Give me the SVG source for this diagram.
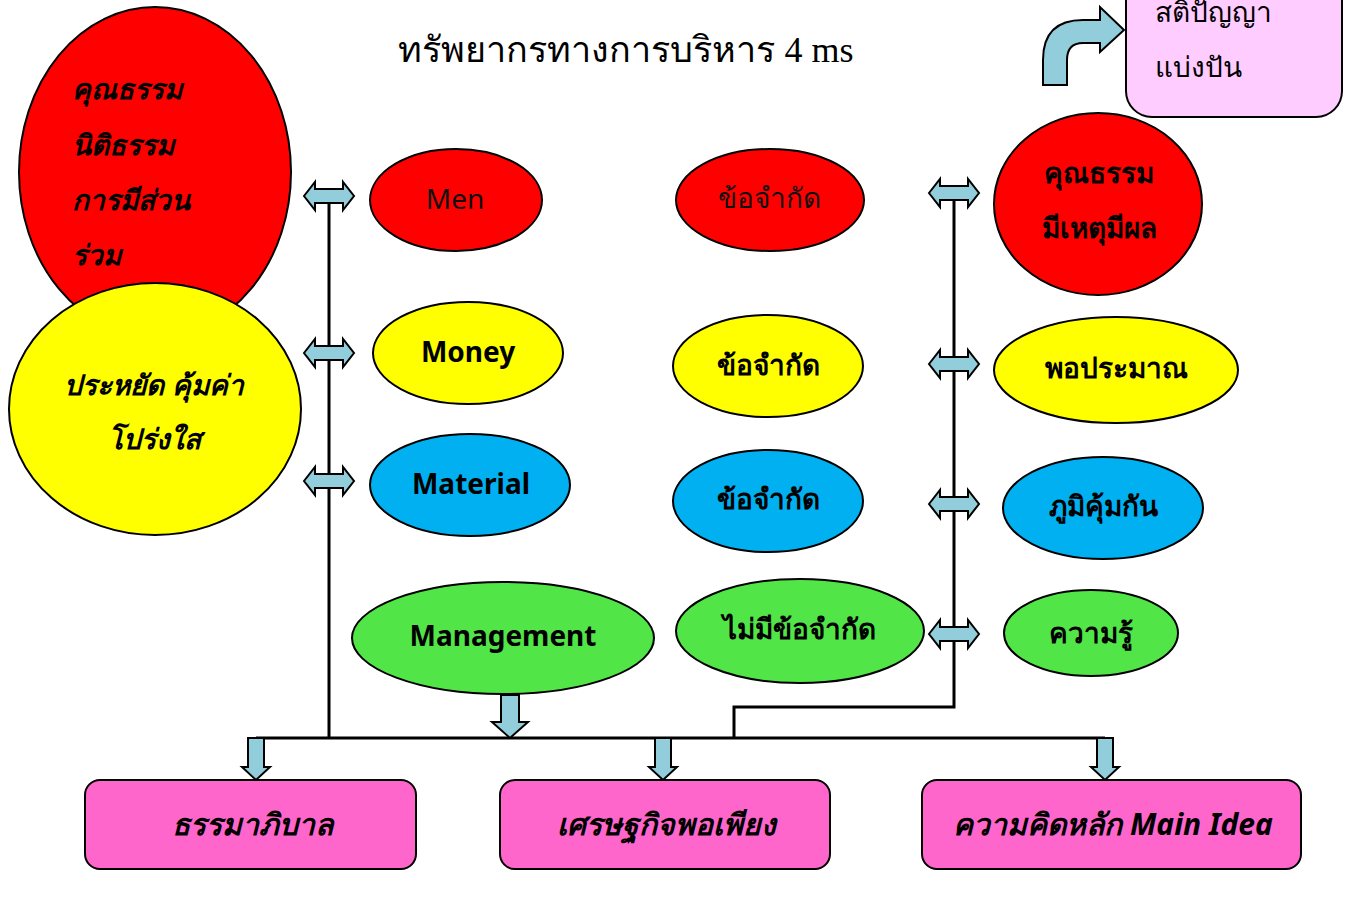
<svg xmlns="http://www.w3.org/2000/svg" xmlns:xlink="http://www.w3.org/1999/xlink" width="1353" height="898" viewBox="0 0 1353 898">
<style>
.sh{stroke:#000;stroke-width:2}
.red{fill:#FF0000}.yel{fill:#FFFF00}.blu{fill:#00B0F0}.grn{fill:#52E548}
.ar{fill:#92CDDC;stroke:#000;stroke-width:2;stroke-linejoin:miter}
.ln{fill:none;stroke:#000;stroke-width:3}
.t{font-family:"Noto Sans","DejaVu Sans","Liberation Sans",sans-serif;font-size:28px;fill:#000;text-anchor:middle}
.b{font-weight:bold}
.i{font-style:italic;font-weight:bold}
.bt{font-size:30px}
.l{text-anchor:start}
</style>
<defs>
<path id="dbl" d="M-25,0 L-14,-14 L-14,-7 L14,-7 L14,-14 L25,0 L14,14 L14,7 L-14,7 L-14,14 Z"/>
<path id="dn" d="M-8,0 L8,0 L8,29 L14,29 L0,42 L-14,29 L-8,29 Z"/>
</defs>
<rect width="1353" height="898" fill="#fff"/>
<text x="626" y="62" style="font-family:'Liberation Serif','DejaVu Serif',serif;font-size:36px;text-anchor:middle">ทรัพยากรทางการบริหาร 4 ms</text>

<g id="connectors">
<path class="ln" d="M329,196 V738 M256,738 H1105 M954,193 V707 H734 V738"/>
<use xlink:href="#dbl" class="ar" x="329" y="196"/>
<use xlink:href="#dbl" class="ar" x="329" y="353"/>
<use xlink:href="#dbl" class="ar" x="329" y="481"/>
<use xlink:href="#dbl" class="ar" x="954" y="193"/>
<use xlink:href="#dbl" class="ar" x="954" y="364"/>
<use xlink:href="#dbl" class="ar" x="954" y="504"/>
<use xlink:href="#dbl" class="ar" x="954" y="634"/>
<path class="ar" d="M501,695 L519,695 L519,722 L528,722 L510,738 L492,722 L501,722 Z"/>
<use xlink:href="#dn" class="ar" x="256" y="738"/>
<use xlink:href="#dn" class="ar" x="663" y="738"/>
<use xlink:href="#dn" class="ar" x="1105" y="738"/>
<path id="bent" class="ar" d="M1043,85 L1043,60 Q1043,20 1083,20 L1100,20 L1100,7 L1124,30 L1100,52 L1100,43 L1083,43 Q1067,43 1067,60 L1067,85 Z"/>
</g>

<g id="n-left-red">
<ellipse class="red sh" cx="155" cy="172" rx="136" ry="165"/>
<text class="t i l" x="72" y="99">คุณธรรม</text>
<text class="t i l" x="72" y="155">นิติธรรม</text>
<text class="t i l" x="72" y="210">การมีส่วน</text>
<text class="t i l" x="72" y="265">ร่วม</text>
</g>
<g id="n-left-yellow">
<ellipse class="yel sh" cx="155" cy="409" rx="146" ry="126"/>
<text class="t i" x="154" y="395">ประหยัด คุ้มค่า</text>
<text class="t i" x="154" y="449">โปร่งใส</text>
</g>

<g id="n-men"><ellipse class="red sh" cx="456" cy="200" rx="86" ry="51"/><text class="t" x="455" y="209" style="fill:#111">Men</text></g>
<g id="n-money"><ellipse class="yel sh" cx="468" cy="353" rx="95" ry="51"/><text class="t b" x="468" y="362">Money</text></g>
<g id="n-material"><ellipse class="blu sh" cx="470" cy="485" rx="100" ry="51"/><text class="t b" x="471" y="494">Material</text></g>
<g id="n-management"><ellipse class="grn sh" cx="503" cy="638" rx="151" ry="56"/><text class="t b" x="503" y="646">Management</text></g>

<g id="n-lim1"><ellipse class="red sh" cx="770" cy="200" rx="94" ry="51"/><text class="t" x="769" y="208" style="fill:#111">ข้อจำกัด</text></g>
<g id="n-lim2"><ellipse class="yel sh" cx="768" cy="366" rx="95" ry="51"/><text class="t b" x="768" y="375">ข้อจำกัด</text></g>
<g id="n-lim3"><ellipse class="blu sh" cx="768" cy="501" rx="95" ry="51"/><text class="t b" x="768" y="509">ข้อจำกัด</text></g>
<g id="n-nolim"><ellipse class="grn sh" cx="800" cy="631" rx="124" ry="52"/><text class="t b" x="799" y="639">ไม่มีข้อจำกัด</text></g>

<g id="n-virtue"><ellipse class="red sh" cx="1098" cy="204" rx="104" ry="91"/>
<text class="t b" x="1099" y="183">คุณธรรม</text>
<text class="t b" x="1099" y="238">มีเหตุมีผล</text></g>
<g id="n-moderate"><ellipse class="yel sh" cx="1116" cy="370" rx="122" ry="53"/><text class="t b" x="1116" y="378">พอประมาณ</text></g>
<g id="n-immunity"><ellipse class="blu sh" cx="1103" cy="508" rx="100" ry="51"/><text class="t b" x="1103" y="516">ภูมิคุ้มกัน</text></g>
<g id="n-knowledge"><ellipse class="grn sh" cx="1091" cy="633" rx="87" ry="43"/><text class="t b" x="1091" y="643">ความรู้</text></g>

<g id="n-wisdom"><rect x="1126" y="-30" width="216" height="147" rx="26" fill="#FFCCFF" class="sh"/>
<text class="t l" x="1155" y="22">สติปัญญา</text>
<text class="t l" x="1155" y="77">แบ่งปัน</text></g>

<g id="n-governance"><rect x="85" y="780" width="331" height="89" rx="15" fill="#FF66CC" class="sh"/><text class="t i bt" x="252" y="835">ธรรมาภิบาล</text></g>
<g id="n-sufficiency"><rect x="500" y="780" width="330" height="89" rx="15" fill="#FF66CC" class="sh"/><text class="t i bt" x="666" y="835">เศรษฐกิจพอเพียง</text></g>
<g id="n-mainidea"><rect x="922" y="780" width="379" height="89" rx="15" fill="#FF66CC" class="sh"/><text class="t i bt" x="1113" y="835">ความคิดหลัก Main Idea</text></g>
</svg>
